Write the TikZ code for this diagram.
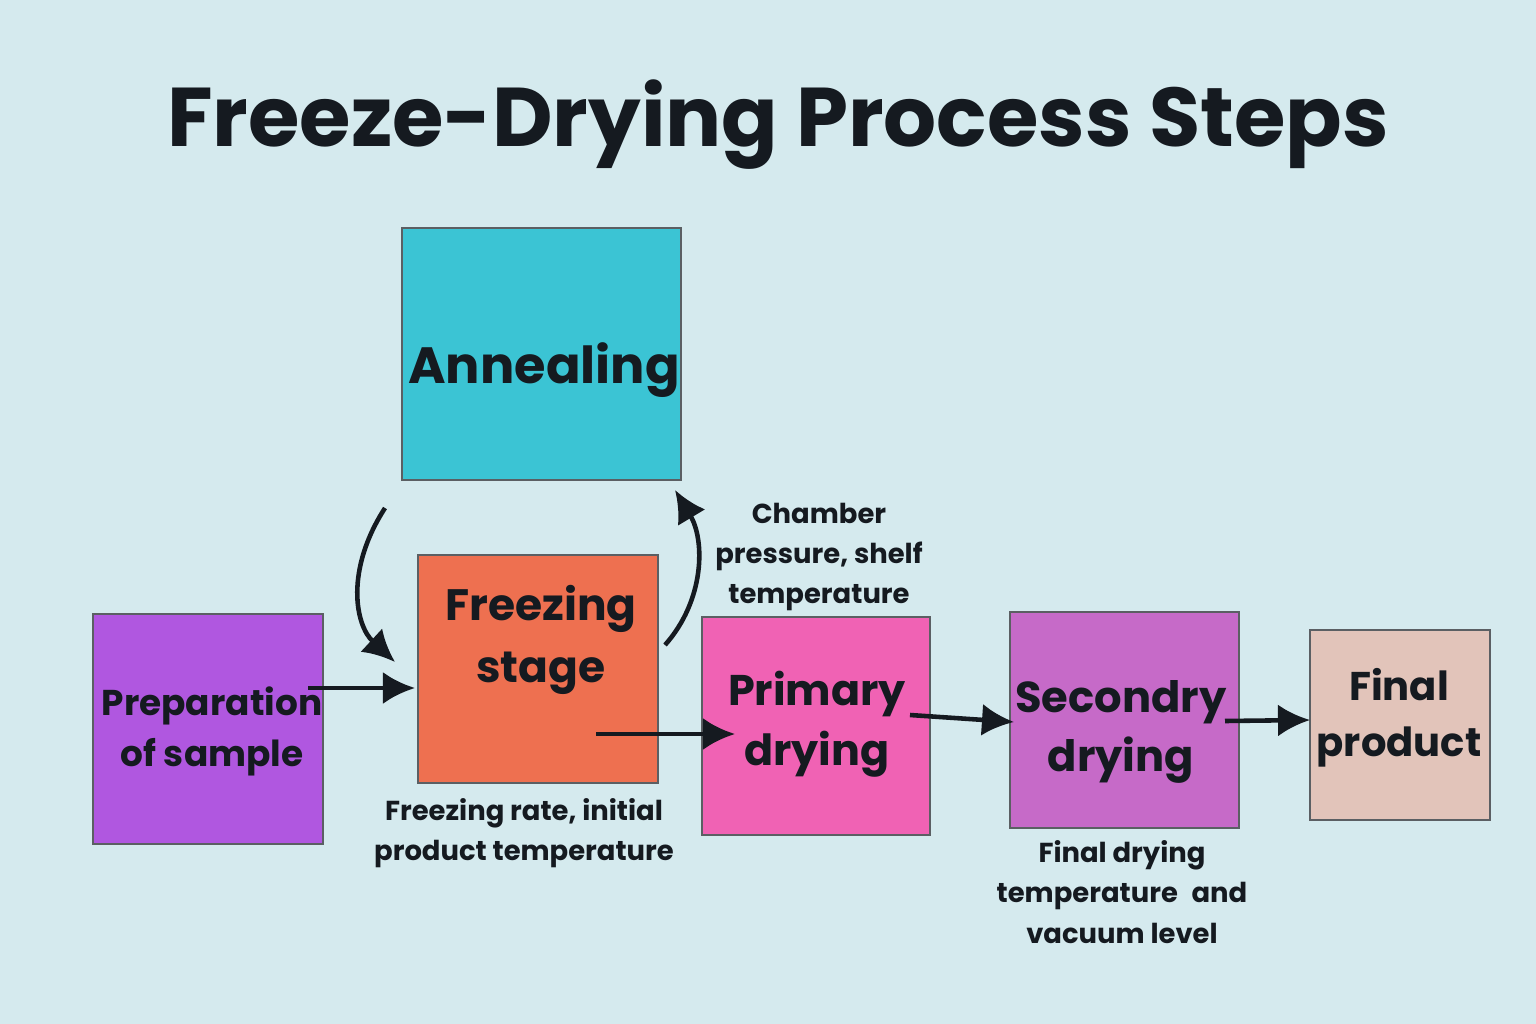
\documentclass[tikz,border=0pt]{standalone}
\usepackage{fontspec}
\setmainfont{Poppins}
\usetikzlibrary{positioning,arrows.meta}
\definecolor{bg}{HTML}{D5EAEE}
\definecolor{annealc}{HTML}{3BC4D4}
\definecolor{freezec}{HTML}{EE7050}
\definecolor{prepc}{HTML}{B057E0}
\definecolor{primc}{HTML}{F062B4}
\definecolor{secc}{HTML}{C66AC8}
\definecolor{finalc}{HTML}{E2C4BA}
\definecolor{ink}{HTML}{151A20}
\begin{document}
\begin{tikzpicture}[
    x=0.01cm, y=-0.01cm,
    stepbox/.style={draw=ink!70, line width=0.5pt, anchor=north west, inner sep=0pt, align=center, text=ink, font=\fontsize{14.5}{19}\selectfont\bfseries},
    boxtext/.style={text=ink, align=center},
    note/.style={align=center, text=ink, font=\fontsize{7.8}{11.5}\selectfont\bfseries},
    flow/.style={-{Latex[length=3.2mm,width=3.2mm]}, line width=1.3pt, draw=ink}
    ]
    %Background
    \fill[bg] (0,0) rectangle (1536,1024);
    \useasboundingbox (0,0) rectangle (1536,1024);
    \node[text=ink, font=\fontsize{23.7}{28}\selectfont\bfseries] (title) at (778,125) {Freeze-Drying Process Steps};

    %Nodes
    \node[stepbox, fill=annealc, minimum width=2.79cm, minimum height=2.52cm] (anneal) at (401,227) {};
    \node[boxtext, font=\fontsize{14.5}{19}\selectfont\bfseries] at (544,370) {Annealing};
    \node[stepbox, fill=freezec, minimum width=2.40cm, minimum height=2.28cm] (freeze) at (417,554) {};
    \node[boxtext, font=\fontsize{12.5}{17.5}\selectfont\bfseries] at (541,640) {Freezing\\stage};
    \node[stepbox, fill=prepc, minimum width=2.30cm, minimum height=2.30cm] (prep) at (92,613) {};
    \node[boxtext, font=\fontsize{10.2}{14.5}\selectfont\bfseries] at (212,731) {Preparation\\of sample};
    \node[stepbox, fill=primc, minimum width=2.28cm, minimum height=2.18cm] (prim) at (701,616) {};
    \node[boxtext, font=\fontsize{12.2}{17}\selectfont\bfseries] at (817,724) {Primary\\drying};
    \node[stepbox, fill=secc, minimum width=2.29cm, minimum height=2.16cm] (sec) at (1009,611) {};
    \node[boxtext, font=\fontsize{12.3}{17}\selectfont\bfseries] at (1121,732) {Secondry\\drying};
    \node[stepbox, fill=finalc, minimum width=1.80cm, minimum height=1.90cm] (final) at (1309,629) {};
    \node[boxtext, font=\fontsize{11.4}{16}\selectfont\bfseries] at (1399,718) {Final\\product};

    %Notes
    \node[note] (n1) at (524,833) {Freezing rate, initial\\product temperature};
    \node[note] (n2) at (819,557) {Chamber\\pressure, shelf\\temperature};
    \node[note] (n3) at (1122,892) {Final drying\\temperature\enspace and\\vacuum level};

    %Arrow ends
    \coordinate (a1) at (308,688);
    \coordinate (b1) at (415,688);
    \coordinate (a2) at (596,734);
    \coordinate (b2) at (735,734);
    \coordinate (a3) at (910,715);
    \coordinate (b3) at (1014,722);
    \coordinate (a4) at (1225,721);
    \coordinate (b4) at (1310,720);
    \coordinate (c1) at (385,508);
    \coordinate (d1) at (395,662);
    \coordinate (c2) at (665,645);
    \coordinate (d2) at (675,490);

    %Lines
    \draw[flow] (a1) -- (b1);
    \draw[flow] (a2) -- (b2);
    \draw[flow] (a3) -- (b3);
    \draw[flow] (a4) -- (b4);
    \draw[flow] (c1) .. controls (345,570) and (355,625) .. (d1);
    \draw[flow] (c2) .. controls (705,600) and (705,540) .. (d2);
\end{tikzpicture}
\end{document}
